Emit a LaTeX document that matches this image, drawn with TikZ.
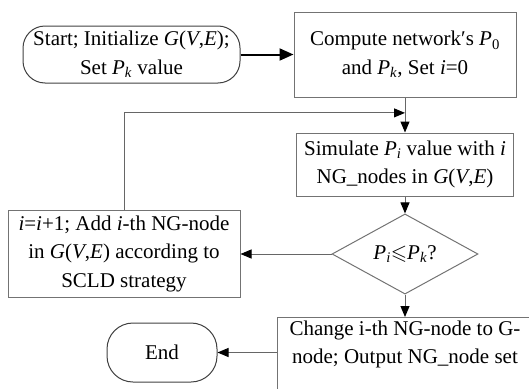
\documentclass[tikz,border=0pt]{standalone}
\usepackage{amssymb}
\usepackage{fontspec}
\setmainfont{Liberation Serif}
\usetikzlibrary{arrows.meta,positioning,calc,shapes.geometric}

\newcommand{\Pv}[1]{\textit{P}\textsubscript{#1}}
\newcommand{\Gve}{\textit{G}(\textit{V},\textit{E})}

\begin{document}
\begin{tikzpicture}[x=1pt, y=-1pt, every node/.style={font=\fontsize{21}{28.5}\selectfont},
    box/.style={draw=black!55, line width=1pt, align=center, inner sep=0pt},
    term/.style={box, draw=black!75, rounded corners=22pt},
    decide/.style={box, diamond, inner sep=0pt},
    link/.style={draw=black!60, line width=1pt, -{Triangle[length=11pt,width=9pt,color=black]}}]
    \useasboundingbox (0,0) rectangle (529,388);
    \clip (0,0) rectangle (529,388);

    % Top row
    \node[term, minimum width=217pt, minimum height=57pt] (start) at (131.5,54.5)
      {Start; Initialize \Gve;\\Set \Pv{\textit{k}} value};
    \node[box, minimum width=222pt, minimum height=85pt] (compute) at (405,54.5)
      {Compute network′s \Pv{0}\\and \Pv{\textit{k}}, Set \textit{i}=0};

    % Loop body
    \node[box, minimum width=217pt, minimum height=63pt] (simulate) at (405,164.5)
      {Simulate \Pv{\textit{i}} value with \textit{i}\\NG\_nodes in \Gve};
    \node[decide, minimum width=146pt, minimum height=68pt] (check) at (405,254)
      {\Pv{\textit{i}}$\leqslant$\Pv{\textit{k}}?};
    \node[box, minimum width=232pt, minimum height=87pt] (addng) at (124,253.5)
      {\textit{i}=\textit{i}+1; Add \textit{i}-th NG-node\\in \Gve{} according to\\SCLD strategy};

    % Exit
    \node[box, minimum width=256pt, minimum height=100pt, anchor=north,
      label={[align=center, anchor=north]north:{Change i-th NG-node to G-\\node; Output NG\_node set}}]
      (change) at (405,317) {};
    \node[term, rounded corners=26pt, minimum width=110pt, minimum height=59pt] (finish) at (162,352.5) {End};

    % Connectors
    \draw[link, draw=black, line width=2pt, -{Triangle[length=14pt,width=12pt,color=black]}] (start) -- (compute);
    \draw[link] (compute) -- (simulate);
    \coordinate (loopin) at ($(compute.south)!0.44!(simulate.north)$);
    \draw[link] (addng.north) |- (loopin);
    \draw[link] (simulate) -- (check);
    \draw[link] (check.west) -- (check.west -| addng.east);
    \draw[link] (check.south) -- (change.north);
    \draw[link] (change.west |- finish) -- (finish.east);
\end{tikzpicture}
\end{document}
